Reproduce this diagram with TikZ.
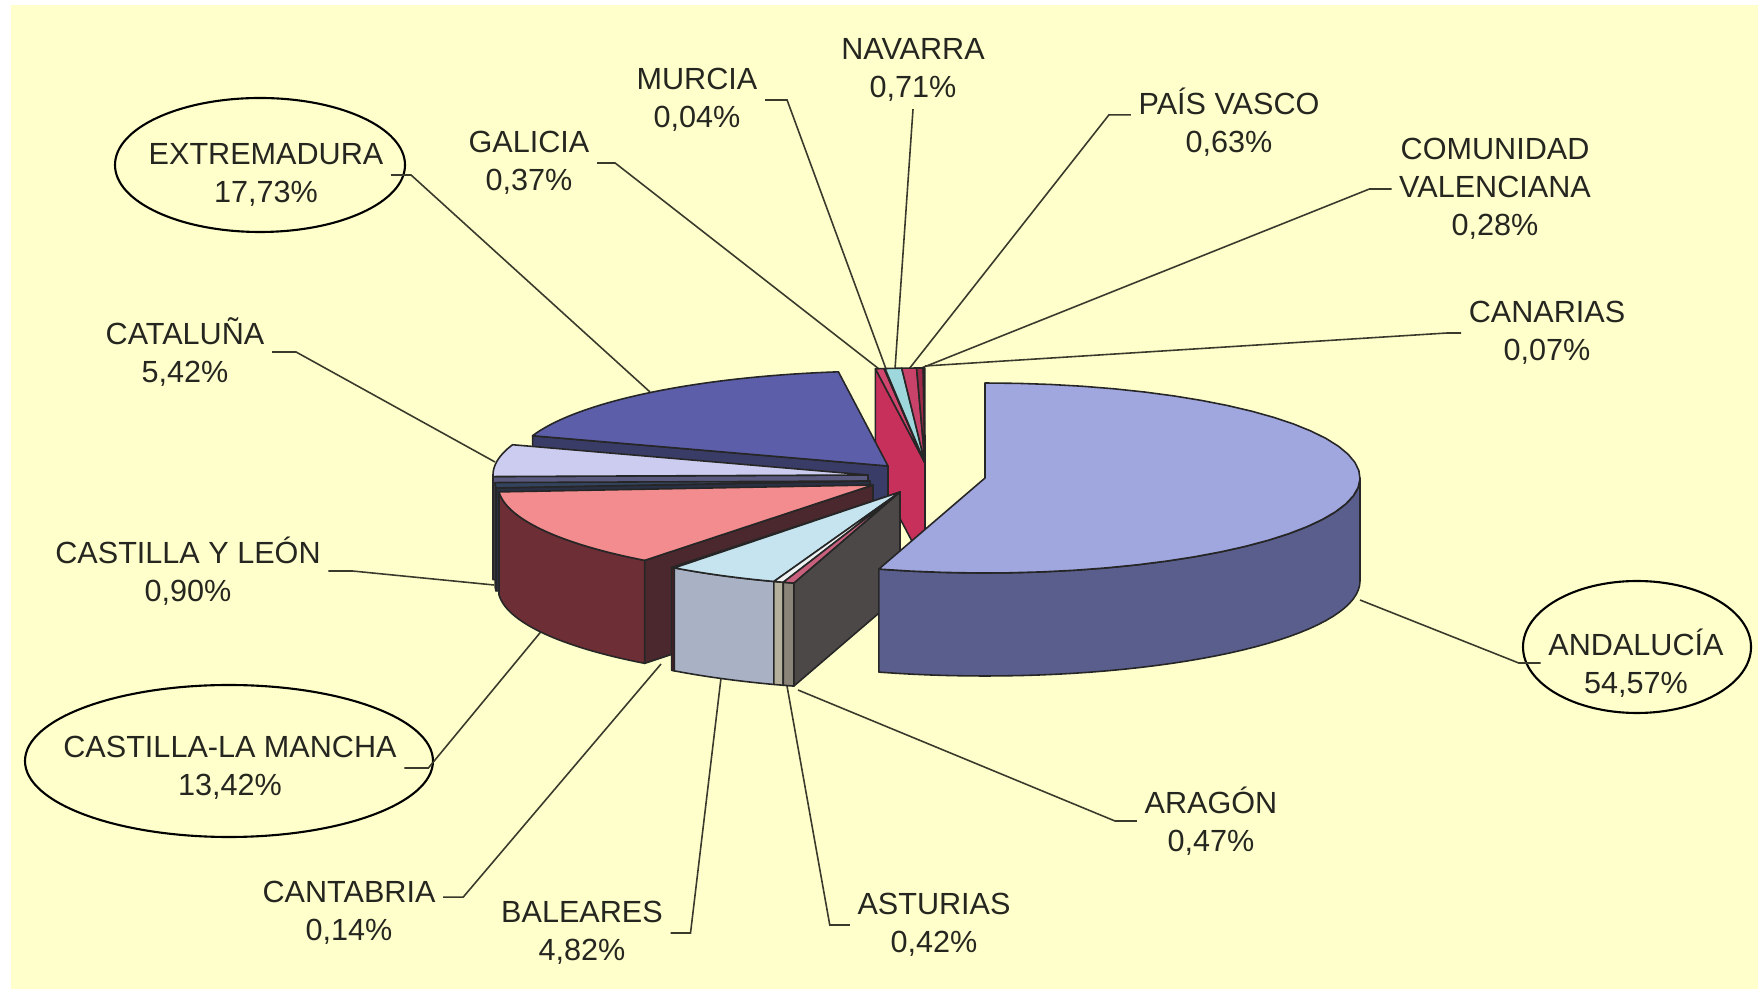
\documentclass[tikz,border=0pt]{standalone}
\usepackage{fontspec}
\setmainfont{Liberation Sans}
\usetikzlibrary{positioning}
\definecolor{bgyellow}{HTML}{FFFFCC}
\definecolor{txtgray}{HTML}{262620}
\definecolor{leadergray}{HTML}{3A3A2C}
\definecolor{andtop}{HTML}{A0A6DE}
\definecolor{andside}{HTML}{5A5E8C}
\definecolor{exttop}{HTML}{5C5EAA}
\definecolor{extface}{HTML}{3A3C68}
\definecolor{cattop}{HTML}{CCCCF0}
\definecolor{catside}{HTML}{8E8EB4}
\definecolor{catface}{HTML}{5A5A80}
\definecolor{cyltop}{HTML}{34445E}
\definecolor{cylside}{HTML}{2C3248}
\definecolor{cylface}{HTML}{2A3044}
\definecolor{clmtop}{HTML}{F28C8E}
\definecolor{clmside}{HTML}{6E2E36}
\definecolor{clmface}{HTML}{4A282E}
\definecolor{ctbtop}{HTML}{7C2E40}
\definecolor{ctbside}{HTML}{4E1E28}
\definecolor{baltop}{HTML}{C6E4F0}
\definecolor{balside}{HTML}{A8B2C4}
\definecolor{asttop}{HTML}{EEF2F2}
\definecolor{astside}{HTML}{B4B09C}
\definecolor{aratop}{HTML}{C8607E}
\definecolor{araside}{HTML}{8A8478}
\definecolor{araface}{HTML}{4C4848}
\definecolor{galtop}{HTML}{D0466E}
\definecolor{galface}{HTML}{C8305C}
\definecolor{murtop}{HTML}{F4F4F4}
\definecolor{navtop}{HTML}{9ED8DC}
\definecolor{pvtop}{HTML}{C8426A}
\definecolor{cvtop}{HTML}{9C2A48}
\definecolor{cantop}{HTML}{6E1E32}
\tikzstyle{lbl}=[align=center,font=\fontsize{8.7}{10.8}\selectfont,text=txtgray,inner sep=2pt]
\tikzstyle{leader}=[draw=leadergray,line width=0.45pt]
\tikzstyle{ring}=[draw=black,line width=0.6pt]
\tikzstyle{slice}=[draw=black!85,line width=0.45pt,line join=round]

\newcommand{\pieb}{95}
\newcommand{\pieh}{103}
% top and front rim of a slice: cx, cy, a, from, to, top, rim
\newcommand{\pieslice}[7]{%
  \pgfmathsetmacro{\rimlo}{max(#4,0)}%
  \pgfmathsetmacro{\rimhi}{min(#5,180)}%
  \pgfmathparse{\rimlo<\rimhi}%
  \ifnum\pgfmathresult=1
    \filldraw[slice,fill=#7] plot[domain=\rimlo:\rimhi,samples=40,variable=\x] ({#1+#3*cos(\x)},{#2+\pieb*sin(\x)})
      -- plot[domain=\rimhi:\rimlo,samples=40,variable=\x] ({#1+#3*cos(\x)},{#2+\pieh+\pieb*sin(\x)}) -- cycle;
  \fi
  \filldraw[slice,fill=#6] (#1,#2) -- plot[domain=#4:#5,samples=40,variable=\x] ({#1+#3*cos(\x)},{#2+\pieb*sin(\x)}) -- cycle;
}
% cut face of a slice: cx, cy, a, angle, colour
\newcommand{\pieface}[5]{%
  \filldraw[slice,fill=#5] (#1,#2) -- ({#1+#3*cos(#4)},{#2+\pieb*sin(#4)}) -- ++(0,\pieh) -- (#1,#2+\pieh) -- cycle;
}

\begin{document}
\begin{tikzpicture}[x=0.01cm,y=-0.01cm]
	\useasboundingbox (0,0) rectangle (1758,989);
	\fill[bgyellow] (11,5) rectangle (1758,989);

	% labels
	\node[lbl] (navLbl) at (913,70) {NAVARRA\\0,71\%};
	\node[lbl] (murLbl) at (697,100) {MURCIA\\0,04\%};
	\node[lbl] (pvLbl) at (1229,122) {PAÍS VASCO\\0,63\%};
	\node[lbl] (galLbl) at (529,163) {GALICIA\\0,37\%};
	\node[lbl] (extLbl) at (266,175) {EXTREMADURA\\17,73\%};
	\node[lbl] (cvLbl) at (1495,189) {COMUNIDAD\\VALENCIANA\\0,28\%};
	\node[lbl] (canLbl) at (1547,333) {CANARIAS\\0,07\%};
	\node[lbl] (catLbl) at (185,352) {CATALUÑA\\5,42\%};
	\node[lbl] (cylLbl) at (188,571) {CASTILLA Y LEÓN\\0,90\%};
	\node[lbl] (clmLbl) at (230,768) {CASTILLA-LA MANCHA\\13,42\%};
	\node[lbl] (ctbLbl) at (349,913) {CANTABRIA\\0,14\%};
	\node[lbl] (balLbl) at (582,933) {BALEARES\\4,82\%};
	\node[lbl] (astLbl) at (934,925) {ASTURIAS\\0,42\%};
	\node[lbl] (araLbl) at (1211,821) {ARAGÓN\\0,47\%};
	\node[lbl] (andLbl) at (1636,663) {ANDALUCÍA\\54,57\%};

	% rings round the three largest
	\draw[ring] (260,165) ellipse [x radius=145,y radius=67];
	\draw[ring] (229,761) ellipse [x radius=204,y radius=76];
	\draw[ring] (1637,647) ellipse [x radius=114,y radius=66];

	% where the leaders meet the pie
	\coordinate (galPt) at (879,369);
	\coordinate (murPt) at (886,369);
	\coordinate (navPt) at (895,369);
	\coordinate (pvPt) at (909,369);
	\coordinate (cvPt) at (919,369);
	\coordinate (canPt) at (925,366);
	\coordinate (extPt) at (650,392);
	\coordinate (catPt) at (495,462);
	\coordinate (cylPt) at (494,585);
	\coordinate (clmPt) at (544,628);
	\coordinate (ctbPt) at (661,664);
	\coordinate (balPt) at (721,678);
	\coordinate (astPt) at (787,686);
	\coordinate (araPt) at (798,690);
	\coordinate (andPt) at (1360,600);

	\draw[leader] (extLbl.east) -- ++(20,0) -- (extPt);
	\draw[leader] (galLbl.east) -- ++(18,0) -- (galPt);
	\draw[leader] (murLbl.east) -- ++(22,0) -- (murPt);
	\draw[leader] (navLbl.south) -- (navPt);
	\draw[leader] ([yshift=2pt]pvLbl.west) -- ++(-22,0) -- (pvPt);
	\draw[leader] (cvLbl.west) -- ++(-22,0) -- (cvPt);
	\draw[leader] (canLbl.west) -- ++(-14,0) -- (canPt);
	\draw[leader] (catLbl.east) -- ++(24,0) -- (catPt);
	\draw[leader] (cylLbl.east) -- ++(24,0) -- (cylPt);
	\draw[leader] (clmLbl.east) -- ++(24,0) -- (clmPt);
	\draw[leader] ([yshift=4.5pt]ctbLbl.east) -- ++(20,0) -- (ctbPt);
	\draw[leader] (balLbl.east) -- ++(20,0) -- (balPt);
	\draw[leader] (astLbl.west) -- ++(-20,0) -- (astPt);
	\draw[leader] (araLbl.west) -- ++(-22,0) -- (araPt);
	\draw[leader] (andLbl.west) -- ++(-22,0) -- (andPt);

	% small slices at the back
	\pieface{925}{463}{375}{262.40}{galface}
	\pieslice{925}{463}{375}{262.40}{263.73}{galtop}{galtop}
	\pieslice{925}{463}{375}{263.73}{263.88}{murtop}{murtop}
	\pieslice{925}{463}{375}{263.88}{266.44}{navtop}{navtop}
	\pieslice{925}{463}{375}{266.44}{268.71}{pvtop}{pvtop}
	\pieslice{925}{463}{375}{268.71}{269.72}{cvtop}{cvtop}
	\pieslice{925}{463}{375}{269.72}{269.97}{cantop}{cantop}

	% left part
	\pieface{888}{466}{375}{198.57}{extface}
	\pieslice{888}{466}{375}{198.57}{262.40}{exttop}{extface}
	\pieface{868}{475}{375}{179.06}{catface}
	\pieslice{868}{475}{375}{179.06}{198.57}{cattop}{catside}
	\pieface{870}{481}{375}{175.82}{cylface}
	\pieslice{870}{481}{375}{175.82}{179.06}{cyltop}{cylside}
	\pieface{873}{485}{375}{127.51}{clmface}
	\pieslice{873}{485}{375}{127.51}{175.82}{clmtop}{clmside}
	\pieslice{900}{492}{375}{127.00}{127.51}{ctbtop}{ctbside}

	% front part
	\pieslice{900}{492}{375}{109.65}{127.00}{baltop}{balside}
	\pieslice{900}{492}{375}{108.14}{109.65}{asttop}{astside}
	\pieface{900}{492}{375}{106.45}{araface}
	\pieslice{900}{492}{375}{106.45}{108.14}{aratop}{araside}

	% Andalucia
	\pieslice{985}{478}{375}{-90}{106.45}{andtop}{andside}
\end{tikzpicture}
\end{document}
